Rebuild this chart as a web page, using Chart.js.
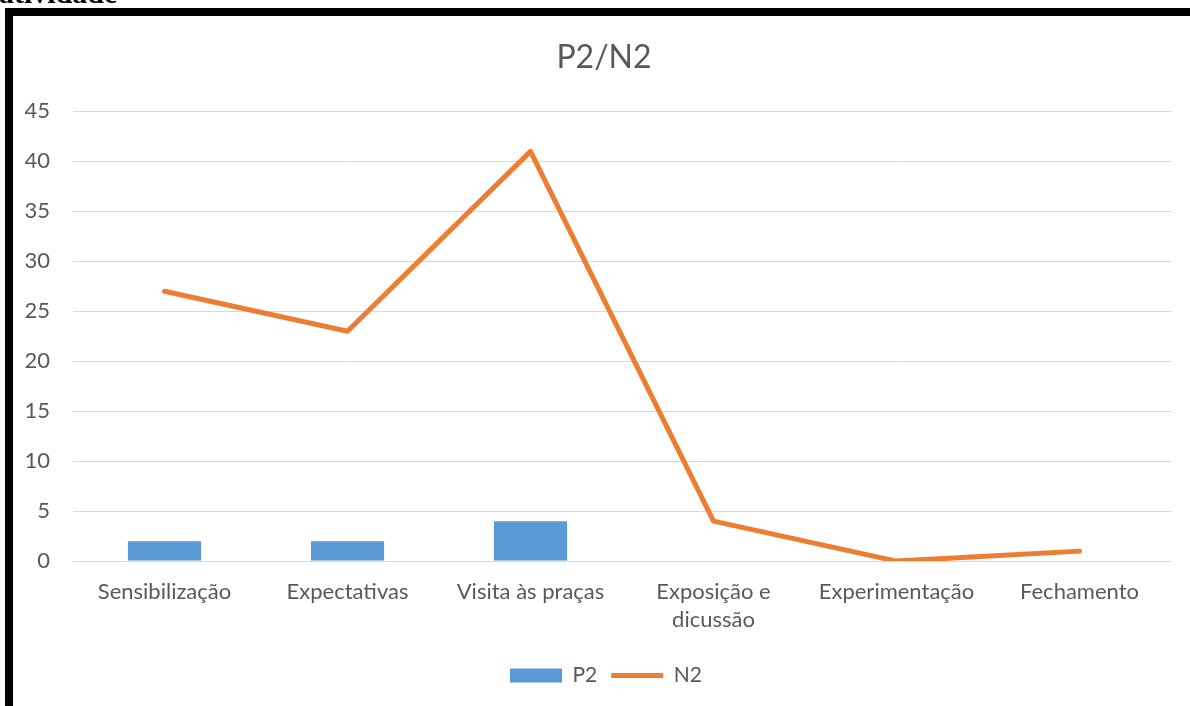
<!DOCTYPE html>
<html>
<head>
<meta charset="utf-8">
<script src="https://cdn.jsdelivr.net/npm/chart.js@4"></script>
<style>
  html, body { margin:0; padding:0; background:#fff; overflow:hidden; }
  #wrap { position:absolute; left:0; top:0; width:1190px; height:706px; }
  #frame { position:absolute; left:5px; top:8px; width:1200px; height:720px; border:8px solid #000; box-sizing:border-box; pointer-events:none; }
  #cap { position:absolute; left:-1px; top:-22px; line-height:30px; font-family:"Liberation Serif", serif; font-weight:bold; font-size:30px; color:#000; }
</style>
</head>
<body>
<div id="wrap">
  <canvas id="c" width="1190" height="706"></canvas>
  <div id="frame"></div>
  <div id="cap">atividade</div>
</div>
<script>
const categories = ["Sensibilização", "Expectativas", "Visita às praças", ["Exposição e", "dicussão"], "Experimentação", "Fechamento"];
const p2Values = [2, 2, 4, 0, 0, 0];
const n2Values = [27, 23, 41, 4, 0, 1];
const yTicks = [0, 5, 10, 15, 20, 25, 30, 35, 40, 45];

const textColor = "#595959";
const fontFamily = "Lato, 'Open Sans', sans-serif";

const boxShift = {
  id: "boxShift",
  afterLayout(chart) {
    const l = chart.legend;
    if (l) { l.left += 8; l.right += 8; }
    const t = chart.titleBlock;
    if (t) { t.left += 6; t.right += 6; }
  }
};

new Chart(document.getElementById("c"), {
  data: {
    labels: categories,
    datasets: [
      {
        type: "bar",
        label: "P2",
        data: p2Values,
        backgroundColor: "#5B9BD5",
        borderWidth: 0,
        barPercentage: 0.4,
        categoryPercentage: 1.0,
        order: 2,
        pointStyle: "rect"
      },
      {
        type: "line",
        label: "N2",
        data: n2Values,
        borderColor: "#ED7D31",
        backgroundColor: "#ED7D31",
        borderWidth: 5,
        borderCapStyle: "round",
        borderJoinStyle: "round",
        tension: 0,
        pointRadius: 0,
        pointHoverRadius: 0,
        pointStyle: "line",
        fill: false,
        order: 1
      }
    ]
  },
  plugins: [boxShift],
  options: {
    responsive: false,
    animation: false,
    events: [],
    layout: { padding: { left: 25, right: 19, top: 0, bottom: 10 } },
    plugins: {
      title: {
        display: true,
        text: "P2/N2",
        color: textColor,
        font: { family: fontFamily, size: 32, weight: "normal" },
        padding: { top: 38, bottom: 35 }
      },
      legend: {
        display: true,
        position: "bottom",
        labels: {
          usePointStyle: true,
          pointStyleWidth: 52,
          boxHeight: 14,
          color: textColor,
          font: { family: fontFamily, size: 21 },
          padding: 14,
          sort: (a, b) => a.datasetIndex - b.datasetIndex
        }
      },
      tooltip: { enabled: false }
    },
    scales: {
      x: {
        grid: { display: false, drawTicks: false },
        border: { display: false },
        afterFit: (scale) => { scale.paddingLeft = 0; scale.paddingRight = 0; },
        ticks: {
          color: textColor,
          font: { family: fontFamily, size: 22, lineHeight: 1.27 },
          padding: 17,
          maxRotation: 0,
          autoSkip: false
        }
      },
      y: {
        min: 0,
        max: 45,
        afterBuildTicks: (axis) => { axis.ticks = yTicks.map(v => ({ value: v })); },
        afterFit: (scale) => { scale.width = 48; },
        grid: { color: "#D9D9D9", lineWidth: 1, drawTicks: false },
        border: { display: false },
        ticks: {
          color: textColor,
          font: { family: fontFamily, size: 22 },
          padding: 23
        }
      }
    }
  }
});
</script>
</body>
</html>
